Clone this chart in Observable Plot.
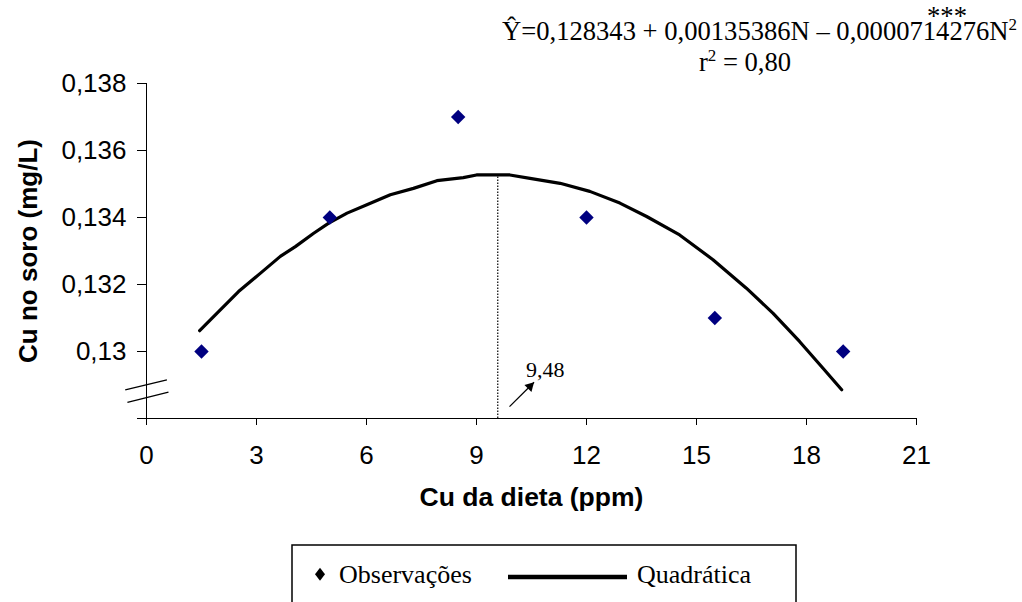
<!DOCTYPE html>
<html>
<head>
<meta charset="utf-8">
<script src="https://cdn.jsdelivr.net/npm/d3@7"></script>
<script src="https://cdn.jsdelivr.net/npm/@observablehq/plot@0.6"></script>
<style>
  html, body { margin: 0; padding: 0; background: white; overflow: hidden; }
  #wrap { position: relative; width: 1022px; height: 602px; }
  #wrap > svg { position: absolute; left: 0; top: 0; }
  #overlay { pointer-events: none; }
</style>
</head>
<body>
<div id="wrap"></div>
<script>
// ---- data ----
const xTicks = [0, 3, 6, 9, 12, 15, 18, 21];
const yTicks = [0.128, 0.130, 0.132, 0.134, 0.136, 0.138];

const obsN  = [1.5, 5, 8.5, 12, 15.5, 19];
const obsCu = [0.130, 0.134, 0.137, 0.134, 0.131, 0.130];

const curveN  = [1.45, 2.02, 2.51, 3.11, 3.65, 4.06, 4.56, 4.97, 5.47, 6.01, 6.65, 7.28, 7.92, 8.64, 9.00,
                 9.91, 10.46, 11.28, 12.09, 12.91, 13.64, 14.54, 15.45, 16.36, 17.09, 17.81, 18.45, 18.96];
const curveCu = [0.13062, 0.13125, 0.13179, 0.13234, 0.13284, 0.13313, 0.13353, 0.13383, 0.13413, 0.13438, 0.13468, 0.13487, 0.13510, 0.13519, 0.13527,
                 0.13527, 0.13517, 0.13502, 0.13478, 0.13443, 0.13403, 0.13348, 0.13274, 0.13189, 0.13114, 0.13030, 0.12950, 0.12886];

const vertexN = [9.58];
const vertexCu = [0.13527];
const vertexLabel = ["9,48"];
const labelPos = {N: [10.35], Cu: [0.12946]};
const arrowFrom = {N: [9.90], Cu: [0.128354]};
const arrowTo = {N: [10.57], Cu: [0.129081]};

const breakX1 = [-0.58, -0.52];
const breakY1 = [0.128854, 0.128483];
const breakX2 = [0.556, 0.600];
const breakY2 = [0.129154, 0.128787];

const xLabel = "Cu da dieta (ppm)";
const yLabel = "Cu no soro (mg/L)";

// ---- tables ----
const obs = obsN.map((n, i) => ({n, cu: obsCu[i]}));
const curve = curveN.map((n, i) => ({n, cu: curveCu[i]}));
const breaks = breakX1.map((x, i) => ({x1: x, y1: breakY1[i], x2: breakX2[i], y2: breakY2[i]}));
const arrow = [{x1: arrowFrom.N[0], y1: arrowFrom.Cu[0], x2: arrowTo.N[0], y2: arrowTo.Cu[0]}];

const sans = "'Liberation Sans', Arial, sans-serif";
const serif = "'Liberation Serif', 'Times New Roman', serif";

const chart = Plot.plot({
  width: 1022,
  height: 602,
  marginLeft: 146,
  marginRight: 106,
  marginTop: 83,
  marginBottom: 184,
  x: {domain: [0, 21]},
  y: {domain: [0.128, 0.138]},
  style: {fontFamily: sans, color: "black", background: "white", overflow: "visible"},
  marks: [
    Plot.ruleY([0.128], {stroke: "black", strokeWidth: 1}),
    Plot.ruleX([0], {stroke: "black", strokeWidth: 1}),
    Plot.axisX({ticks: xTicks, tickSize: 7, tickPadding: 20, fontSize: 26, label: null,
                tickFormat: d => String(d), stroke: "black"}),
    Plot.axisY({ticks: yTicks, tickSize: 9, tickPadding: 11, fontSize: 26, label: null,
                tickFormat: d => d === 0.128 ? "" : String(+d.toFixed(3)).replace(".", ","), stroke: "black"}),
    Plot.link(breaks, {x1: "x1", y1: "y1", x2: "x2", y2: "y2", stroke: "black", strokeWidth: 1.3}),
    Plot.ruleX(vertexN, {y1: 0.128, y2: vertexCu[0], stroke: "black", strokeWidth: 1.2, strokeDasharray: "1.5,1.5"}),
    Plot.line(curve, {x: "n", y: "cu", stroke: "black", strokeWidth: 3.2, strokeLinejoin: "round", strokeLinecap: "round"}),
    Plot.dot(obs, {x: "n", y: "cu", symbol: "diamond2", fill: "#000080", stroke: "none", r: 6.5}),
    Plot.text(vertexLabel, {x: labelPos.N, y: labelPos.Cu, text: d => d, textAnchor: "start",
                            fontFamily: serif, fontSize: 22, fill: "black"}),
    Plot.link(arrow, {x1: "x1", y1: "y1", x2: "x2", y2: "y2", stroke: "black", strokeWidth: 1.3}),
    Plot.dot(arrow, {x: "x2", y: "y2", symbol: "triangle", fill: "black", stroke: "none", r: 3.7, rotate: 45, dx: -4.1, dy: 4.1}),
    Plot.text([xLabel], {frameAnchor: "bottom", dy: 79, text: d => d, textAnchor: "middle", lineAnchor: "middle",
                         fontSize: 26.5, fontWeight: "bold", fill: "black"}),
    Plot.text([yLabel], {frameAnchor: "left", dx: -118, rotate: -90, text: d => d, textAnchor: "middle", lineAnchor: "middle",
                         fontSize: 26, fontWeight: "bold", fill: "black"})
  ]
});
document.getElementById("wrap").appendChild(chart);

// ---- equation and legend (overlay) ----
const ov = d3.select("#wrap").append("svg")
  .attr("id", "overlay").attr("width", 1022).attr("height", 602)
  .attr("font-family", serif).attr("font-size", 26.6);

const eq = ov.append("text").attr("x", 1017).attr("y", 40).attr("text-anchor", "end");
eq.append("tspan").text("Ŷ=0,128343 + 0,00135386N – 0,0000714276N");
eq.append("tspan").attr("dy", -10).attr("font-size", 17).text("2");
ov.append("text").attr("x", 947).attr("y", 25).attr("text-anchor", "middle").text("***");

const r2 = ov.append("text").attr("x", 745).attr("y", 71).attr("text-anchor", "middle");
r2.append("tspan").text("r");
r2.append("tspan").attr("dy", -10).attr("font-size", 17).text("2");
r2.append("tspan").attr("dy", 10).text(" = 0,80");

// legend
const lg = ov.append("g").attr("font-size", 26);
lg.append("rect").attr("x", 292).attr("y", 545).attr("width", 504).attr("height", 80)
  .attr("fill", "none").attr("stroke", "black").attr("stroke-width", 1.5);
lg.append("polygon").attr("points", "320,567.8 325,574.3 320,580.8 315,574.3").attr("fill", "black");
lg.append("text").attr("x", 339).attr("y", 582.7).text("Observações");
lg.append("line").attr("x1", 508).attr("x2", 627).attr("y1", 577).attr("y2", 577)
  .attr("stroke", "black").attr("stroke-width", 4.5);
lg.append("text").attr("x", 637).attr("y", 582.7).text("Quadrática");
</script>
</body>
</html>
